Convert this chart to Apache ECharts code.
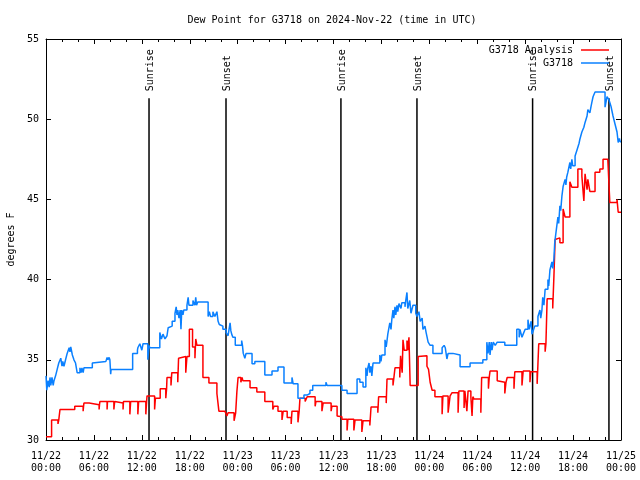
<!DOCTYPE html>
<html>
<head>
<meta charset="utf-8">
<script src="https://cdn.jsdelivr.net/npm/echarts@6/dist/echarts.min.js"></script>
<style>html,body{margin:0;padding:0;background:#fff}#chart{width:640px;height:480px}</style>
</head>
<body>
<div id="chart"></div>
<script>
// Hours since 2024-11-22 00:00 UTC, dew point in °F
const analysisData = [[0,30.2],[0.7,31.25],[1.5,31.0],[1.6,31.25],[1.75,31.9],[3.6,32.1],[4.65,31.8],[4.7,32.1],[4.75,32.3],[5.4,32.2],[6.65,31.9],[6.7,32.2],[6.75,32.4],[7.65,31.9],[7.7,32.4],[8.5,31.9],[8.6,32.4],[8.65,32.3],[9.65,31.9],[9.7,32.4],[10.5,31.6],[10.6,32.4],[11.5,31.6],[11.6,32.4],[12.5,31.6],[12.6,32.4],[12.65,32.75],[13.6,31.9],[13.7,32.6],[14.3,33.2],[15.0,32.6],[15.1,33.2],[15.15,33.9],[15.65,33.4],[15.75,34.2],[16.5,33.6],[16.6,35.1],[16.8,35.2],[17.5,34.2],[17.65,35.2],[17.95,36.9],[18.35,35.8],[18.65,35.1],[18.75,36.3],[18.9,35.9],[19.65,33.9],[20.4,33.55],[21.4,32.9],[21.65,31.8],[22.4,31.7],[22.65,31.5],[22.8,31.7],[23.55,31.2],[23.75,31.7],[23.9,33.0],[24.05,33.9],[24.4,33.6],[24.55,33.9],[24.65,33.7],[25.55,33.25],[26.4,33.0],[27.4,32.4],[28.4,31.9],[28.55,32.1],[29.05,31.8],[29.55,31.25],[29.7,31.8],[30.2,31.4],[30.7,31.0],[30.8,31.8],[31.55,31.1],[31.7,31.8],[31.8,32.6],[32.45,32.4],[32.7,32.7],[33.7,32.1],[33.8,32.4],[34.55,31.8],[34.7,32.3],[35.7,31.8],[35.8,32.1],[36.45,31.5],[36.55,31.45],[37.05,31.3],[37.7,30.6],[37.8,31.3],[38.55,30.6],[38.7,31.25],[39.55,30.5],[39.7,31.2],[40.55,30.9],[40.7,32.06],[41.55,31.7],[41.65,32.7],[42.6,32.3],[42.7,33.8],[43.45,33.4],[43.7,34.5],[44.3,33.9],[44.4,35.25],[44.6,34.2],[44.7,36.25],[44.85,35.6],[45.2,36.2],[45.3,35.6],[45.45,36.4],[45.6,33.4],[46.6,35.2],[46.85,35.25],[47.7,34.6],[47.9,34.4],[48.1,33.6],[48.35,33.1],[48.7,32.7],[49.6,31.6],[49.7,32.75],[50.35,31.7],[50.6,32.75],[50.85,32.95],[51.6,31.7],[51.7,33.06],[52.35,32.0],[52.45,33.06],[52.7,31.8],[52.85,33.06],[53.2,32.7],[53.35,31.5],[53.45,32.7],[53.6,32.55],[54.45,31.7],[54.55,33.9],[55.4,33.2],[55.5,33.9],[55.6,34.3],[56.5,33.7],[56.6,33.6],[57.45,32.9],[57.6,33.6],[57.75,33.9],[58.6,33.2],[58.7,34.25],[59.6,33.4],[59.75,34.3],[60.6,33.6],[60.7,34.25],[61.5,33.5],[61.6,34.75],[61.7,36.0],[62.5,35.5],[62.6,36.0],[62.75,38.8],[63.45,38.2],[63.6,40.2],[63.75,42.5],[63.85,42.6],[64.35,42.3],[64.75,44.4],[65.0,43.9],[65.6,46.1],[65.85,45.75],[66.6,46.9],[67.1,46.45],[67.35,44.9],[67.5,46.6],[67.75,45.6],[67.85,46.25],[68.1,45.5],[68.75,46.7],[69.35,46.9],[69.75,47.5],[70.35,47.6],[70.6,44.8],[71.5,45.0],[71.65,44.2],[72.0,44.2]];

const stationData = [[0,34.0],[0.1,33.1],[0.25,33.7],[0.4,33.3],[0.5,33.9],[0.6,33.4],[0.75,33.9],[0.9,33.4],[1.0,33.7],[1.2,34.0],[1.4,34.4],[1.6,34.8],[1.85,35.1],[2.0,34.6],[2.1,34.9],[2.25,34.6],[2.45,35.0],[2.65,35.4],[2.9,35.75],[3.0,35.5],[3.1,35.8],[3.3,35.3],[3.5,35.0],[3.7,34.8],[3.9,34.2],[4.25,34.5],[4.4,34.2],[4.5,34.5],[4.65,34.2],[4.75,34.5],[5.8,34.8],[6.0,34.9],[7.5,35.0],[7.65,35.15],[7.75,35.0],[7.9,35.15],[8.0,35.0],[8.1,34.1],[8.15,34.4],[10.85,35.4],[11.45,35.6],[11.5,35.75],[11.75,36.0],[12.0,35.6],[12.15,36.0],[12.75,35.0],[12.9,35.9],[13.0,35.75],[14.25,36.7],[14.45,36.3],[14.65,36.6],[14.9,36.3],[15.15,36.5],[15.3,37.0],[15.5,37.1],[15.8,37.4],[16.15,37.9],[16.3,38.3],[16.4,37.8],[16.5,38.1],[16.65,37.6],[16.8,38.1],[16.9,36.9],[17.0,38.1],[17.15,37.8],[17.25,38.1],[17.65,38.4],[17.8,38.9],[17.9,38.4],[18.4,38.7],[18.65,38.4],[18.75,38.9],[18.85,38.4],[19.0,38.6],[20.3,37.7],[20.45,38.0],[20.6,37.7],[20.9,38.0],[21.15,37.7],[21.4,38.0],[21.55,37.4],[21.7,37.2],[21.9,37.1],[22.15,36.9],[22.55,36.7],[22.8,36.5],[23.05,37.3],[23.15,36.8],[23.25,36.6],[23.4,36.4],[23.7,35.9],[24.5,36.2],[24.6,35.9],[24.7,35.4],[24.9,35.1],[25.05,35.4],[25.8,34.75],[26.15,34.9],[27.4,34.06],[28.3,34.3],[29.05,34.55],[29.8,33.56],[30.8,33.9],[30.95,33.5],[31.55,32.6],[32.3,32.8],[32.7,32.9],[33.05,33.1],[33.4,33.4],[35.05,33.6],[35.2,33.4],[37.05,33.1],[37.7,32.9],[38.95,33.8],[39.3,33.6],[39.7,33.3],[40.05,34.5],[40.2,34.0],[40.3,34.5],[40.45,34.8],[40.55,34.2],[40.7,34.6],[40.8,34.0],[40.95,34.8],[41.8,35.3],[41.95,34.9],[42.05,35.3],[42.45,36.25],[42.6,35.8],[42.7,36.2],[42.8,36.6],[43.05,37.3],[43.2,36.9],[43.3,37.5],[43.45,38.1],[43.55,37.6],[43.7,38.3],[43.8,37.8],[43.95,38.4],[44.05,38.0],[44.2,38.5],[44.45,38.2],[44.55,38.55],[44.95,38.3],[45.05,38.7],[45.2,39.2],[45.3,38.2],[45.55,38.7],[45.7,37.9],[45.95,38.4],[46.3,37.9],[46.45,37.7],[46.7,38.0],[46.85,37.4],[47.1,37.6],[47.2,36.9],[47.45,37.1],[47.6,36.7],[47.85,36.1],[48.1,35.9],[48.45,35.4],[49.6,35.75],[49.85,35.9],[50.0,35.75],[50.2,35.05],[50.35,35.4],[50.95,35.3],[51.85,34.56],[53.1,34.8],[53.85,34.9],[54.0,34.8],[54.7,35.0],[55.2,36.1],[55.35,35.4],[55.5,36.1],[55.6,35.3],[55.75,36.1],[55.85,35.6],[56.0,36.1],[56.25,35.9],[56.5,36.1],[57.45,35.9],[58.95,36.9],[59.25,36.4],[59.35,36.9],[59.6,36.4],[59.75,36.6],[60.0,36.9],[60.35,37.5],[60.5,36.9],[60.75,37.4],[60.85,36.6],[61.0,36.8],[61.2,37.1],[61.6,37.7],[61.85,38.1],[61.95,37.6],[62.1,38.1],[62.2,38.9],[62.35,38.4],[62.5,39.4],[62.85,40.0],[62.95,39.6],[63.1,40.6],[63.35,41.1],[63.45,40.7],[63.6,41.3],[63.7,42.3],[63.95,43.3],[64.1,43.9],[64.2,43.5],[64.35,44.6],[64.45,44.3],[64.6,45.2],[64.75,45.8],[65.0,46.25],[65.1,45.9],[65.2,46.4],[65.35,46.7],[65.6,47.3],[65.7,46.9],[65.85,47.5],[65.95,47.1],[66.25,47.7],[66.5,48.1],[66.75,48.5],[66.85,48.75],[67.1,49.2],[67.35,49.5],[67.5,49.8],[67.75,50.2],[67.85,50.6],[68.1,50.4],[68.25,50.8],[68.35,51.05],[68.5,51.4],[68.75,51.7],[70.0,50.75],[70.25,51.4],[70.5,51.2],[70.75,50.8],[71.0,50.2],[71.25,49.7],[71.5,49.2],[71.65,48.55],[71.8,48.8],[71.9,48.6],[72.0,48.6]];

const sunHours = [12.9, 22.54, 36.93, 46.45, 60.93, 70.49];
const sunNames = ['Sunrise', 'Sunset', 'Sunrise', 'Sunset', 'Sunrise', 'Sunset'];
const sunLineTop = 51.3;

const tickLabels = ['11/22\n00:00','11/22\n06:00','11/22\n12:00','11/22\n18:00','11/23\n00:00','11/23\n06:00','11/23\n12:00','11/23\n18:00','11/24\n00:00','11/24\n06:00','11/24\n12:00','11/24\n18:00','11/25\n00:00'];
const seriesNames = ['G3718 Analysis', 'G3718'];
const titleText = 'Dew Point for G3718 on 2024-Nov-22 (time in UTC)';

const FONT = '"DejaVu Sans Mono", monospace';
const txt = {fontFamily: FONT, fontSize: 10, color: '#000'};

function xAxisDef(pos, labels) {
  return {
    type: 'value', min: 0, max: 72, interval: 6, position: pos,
    axisLine: {show: true, onZero: false, lineStyle: {color: '#000', width: 1}},
    axisTick: {show: true, inside: true, length: 5, lineStyle: {color: '#000'}},
    minorTick: {show: true, splitNumber: 3, length: 3, lineStyle: {color: '#000'}},
    axisLabel: labels ? Object.assign({formatter: v => tickLabels[Math.round(v / 6)], lineHeight: 12, margin: 10}, txt) : {show: false},
    splitLine: {show: false}
  };
}
function yAxisDef(pos, labels) {
  const a = {
    type: 'value', min: 30, max: 55, interval: 5, position: pos,
    axisLine: {show: true, onZero: false, lineStyle: {color: '#000', width: 1}},
    axisTick: {show: true, inside: true, length: 5, lineStyle: {color: '#000'}},
    axisLabel: labels ? Object.assign({margin: 7}, txt) : {show: false},
    splitLine: {show: false}
  };
  if (labels) {
    a.name = 'degrees F'; a.nameLocation = 'middle'; a.nameGap = 30; a.nameRotate = 90;
    a.nameTextStyle = Object.assign({}, txt);
  }
  return a;
}

const chart = echarts.init(document.getElementById('chart'), null, {renderer: 'canvas'});
chart.setOption({
  animation: false,
  backgroundColor: '#fff',
  title: {text: titleText, left: 327, top: 10, textAlign: 'center',
    textStyle: {fontFamily: FONT, fontSize: 10, fontWeight: 'normal', color: '#000'}},
  grid: {left: 46, right: 19, top: 39, bottom: 40, containLabel: false, outerBoundsMode: 'none'},
  legend: [
    {data: [seriesNames[0]], right: 26, top: 40, align: 'right', icon: 'rect', itemWidth: 28, itemHeight: 1.5,
      selectedMode: false, textStyle: Object.assign({padding: [0, 3, 0, 0]}, txt)},
    {data: [seriesNames[1]], right: 26, top: 53, align: 'right', icon: 'rect', itemWidth: 28, itemHeight: 1.5,
      selectedMode: false, textStyle: Object.assign({padding: [0, 3, 0, 0]}, txt)}
  ],
  xAxis: [xAxisDef('bottom', true), xAxisDef('top', false)],
  yAxis: [yAxisDef('left', true), yAxisDef('right', false)],
  series: [
    {
      type: 'custom', name: 'sun', xAxisIndex: 0, yAxisIndex: 0, silent: true,
      data: sunHours.map(h => [h, 30]),
      renderItem: function (params, api) {
        const h = api.value(0);
        const p0 = api.coord([h, 30]);
        const p1 = api.coord([h, sunLineTop]);
        return {
          type: 'group',
          children: [
            {type: 'line', shape: {x1: p0[0], y1: p0[1], x2: p1[0], y2: p1[1]}, style: {stroke: '#000', lineWidth: 1.5}},
            {type: 'text', x: p1[0] + 1, y: p1[1] - 7, rotation: Math.PI / 2,
              style: {text: sunNames[params.dataIndex], align: 'left', verticalAlign: 'middle',
                font: '10px "DejaVu Sans Mono", monospace', fill: '#000'}}
          ]
        };
      }
    },
    {
      type: 'line', name: seriesNames[0], data: analysisData, step: 'end', showSymbol: false, symbol: 'none',
      color: '#ff0000', lineStyle: {color: '#ff0000', width: 1.5}
    },
    {
      type: 'line', name: seriesNames[1], data: stationData, step: 'end', showSymbol: false, symbol: 'none',
      color: '#0a80ff', lineStyle: {color: '#0a80ff', width: 1.5}
    }
  ]
});
</script>
</body>
</html>
